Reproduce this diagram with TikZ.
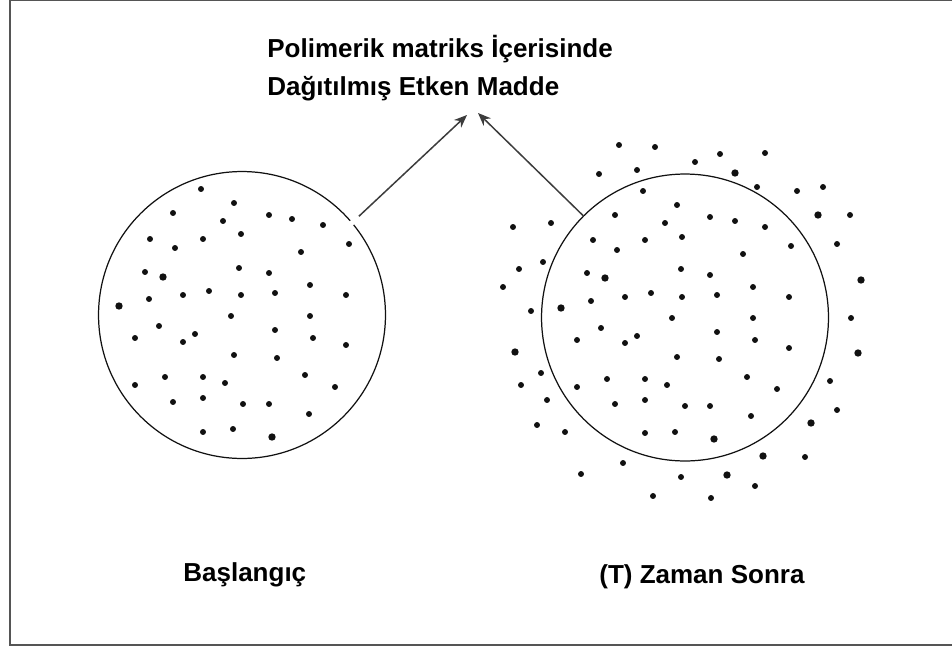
\documentclass[tikz,border=0pt]{standalone}
\usepackage{fontspec}
\setmainfont{Liberation Sans}
\usetikzlibrary{arrows.meta}
\definecolor{pmink}{HTML}{111111}
\definecolor{pmline}{HTML}{3C3C3C}
\definecolor{pmframe}{HTML}{555555}

\begin{document}
\begin{tikzpicture}[x=0.02cm,y=-0.02cm,>={Stealth[length=2.6mm,width=2.1mm]},
  matrixdisk/.style={circle,draw=pmink,line width=0.7pt,minimum size=5.74cm,inner sep=0pt},
  flowarrow/.style={->,draw=pmline,line width=0.85pt},
  caption/.style={font=\fontsize{14.8}{21.6}\selectfont\bfseries,inner sep=0pt}]
  \useasboundingbox (0,0) rectangle (952,649);
  \draw[pmframe,line width=1.1pt] (10,0.5) rectangle (960,645);

  % the two matrix disks
  \node[matrixdisk] (start) at (242,315) {};
  \node[matrixdisk] (later) at (685,317.5) {};

  % drug particles at the start
  \foreach \x/\y in {201/189,234/203,173/213,223/221,269/215,292/219,323/225,150/239,203/239,241/234,
    175/248,349/244,301/252,145/272,239/268,269/273,310/285,149/299,183/295,209/291,241/295,275/293,
    346/295,231/316,310/316,159/326,135/338,183/342,195/334,275/330,313/338,346/345,234/355,277/358,
    135/385,165/377,203/377,225/383,305/375,335/387,173/402,203/398,243/404,269/404,309/414,203/432,233/429}
    \fill[pmink] (\x,\y) circle (1.7pt);
  \foreach \x/\y in {163/277,119/306,272/437}
    \fill[pmink] (\x,\y) circle (2.1pt);

  % drug particles after time T
  \foreach \x/\y in {619/145,655/147,720/154,765/153,695/162,599/174,637/170,643/191,757/187,797/191,
    823/187,677/205,615/215,665/223,710/217,735/221,765/227,850/215,513/227,551/223,593/240,645/240,
    682/237,617/250,743/254,791/246,837/244,519/269,543/262,587/273,681/269,710/275,753/287,503/287,
    591/301,625/297,651/293,682/297,717/295,789/297,531/311,672/318,753/318,851/318,601/328,637/336,
    625/343,577/340,717/332,755/340,789/348,677/357,719/359,541/373,521/385,577/387,607/379,645/379,
    667/385,747/377,777/389,830/381,547/400,615/404,645/400,685/406,710/406,751/416,837/410,537/425,
    565/432,645/433,675/432,805/457,623/463,581/474,681/477,755/486,653/496,711/498}
    \fill[pmink] (\x,\y) circle (1.7pt);
  \foreach \x/\y in {735/173,818/215,605/278,861/280,561/308,515/352,858/353,714/439,811/423,763/456,727/475}
    \fill[pmink] (\x,\y) circle (2.1pt);

  \node[caption,anchor=base west,align=left] (title) at (267,95) {Polimerik matriks İçerisinde\\Dağıtılmış Etken Madde};
  \coordinate (tipA) at (467,115);
  \coordinate (tipB) at (478,113);

  \draw[white,line width=3pt,shorten <=-2pt,shorten >=3.03cm] (start.40.5) -- (tipA);
  \draw[flowarrow,shorten <=0.18cm] (start.40.5) -- (tipA);
  \draw[flowarrow] (later.135) -- (tipB);

  \node[caption,anchor=base west] (startlbl) at (183,581) {Başlangıç};
  \node[caption,anchor=base west] (laterlbl) at (599,583) {(T) Zaman Sonra};
\end{tikzpicture}
\end{document}
